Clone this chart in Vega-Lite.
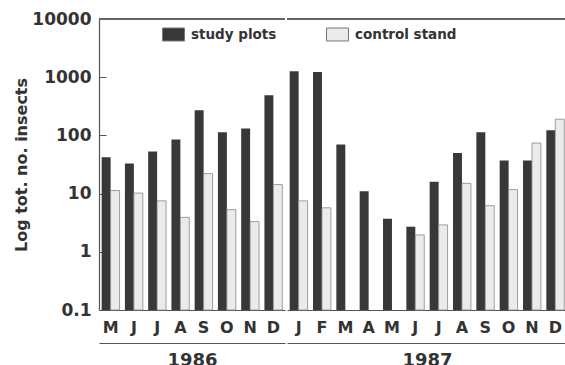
{
  "$schema": "https://vega.github.io/schema/vega-lite/v6.json",
  "background": "white",
  "padding": {"left": 13, "top": 10, "right": 0, "bottom": 0},
  "spacing": 0,
  "datasets": {
    "d": [
      {"year": 1986, "m": 5, "series": "study plots", "count": 42},
      {"year": 1986, "m": 6, "series": "study plots", "count": 33},
      {"year": 1986, "m": 7, "series": "study plots", "count": 53},
      {"year": 1986, "m": 8, "series": "study plots", "count": 85},
      {"year": 1986, "m": 9, "series": "study plots", "count": 270},
      {"year": 1986, "m": 10, "series": "study plots", "count": 113},
      {"year": 1986, "m": 11, "series": "study plots", "count": 132},
      {"year": 1986, "m": 12, "series": "study plots", "count": 490},
      {"year": 1986, "m": 5, "series": "control stand", "count": 11.3},
      {"year": 1986, "m": 6, "series": "control stand", "count": 10.2},
      {"year": 1986, "m": 7, "series": "control stand", "count": 7.5},
      {"year": 1986, "m": 8, "series": "control stand", "count": 3.9},
      {"year": 1986, "m": 9, "series": "control stand", "count": 22},
      {"year": 1986, "m": 10, "series": "control stand", "count": 5.3},
      {"year": 1986, "m": 11, "series": "control stand", "count": 3.3},
      {"year": 1986, "m": 12, "series": "control stand", "count": 14.3},
      {"year": 1987, "m": 1, "series": "study plots", "count": 1260},
      {"year": 1987, "m": 2, "series": "study plots", "count": 1230},
      {"year": 1987, "m": 3, "series": "study plots", "count": 70},
      {"year": 1987, "m": 4, "series": "study plots", "count": 11},
      {"year": 1987, "m": 5, "series": "study plots", "count": 3.7},
      {"year": 1987, "m": 6, "series": "study plots", "count": 2.7},
      {"year": 1987, "m": 7, "series": "study plots", "count": 16},
      {"year": 1987, "m": 8, "series": "study plots", "count": 50},
      {"year": 1987, "m": 9, "series": "study plots", "count": 113},
      {"year": 1987, "m": 10, "series": "study plots", "count": 37},
      {"year": 1987, "m": 11, "series": "study plots", "count": 37},
      {"year": 1987, "m": 12, "series": "study plots", "count": 122},
      {"year": 1987, "m": 1, "series": "control stand", "count": 7.5},
      {"year": 1987, "m": 2, "series": "control stand", "count": 5.7},
      {"year": 1987, "m": 6, "series": "control stand", "count": 1.95},
      {"year": 1987, "m": 7, "series": "control stand", "count": 2.9},
      {"year": 1987, "m": 8, "series": "control stand", "count": 15},
      {"year": 1987, "m": 9, "series": "control stand", "count": 6.2},
      {"year": 1987, "m": 10, "series": "control stand", "count": 11.7},
      {"year": 1987, "m": 11, "series": "control stand", "count": 74},
      {"year": 1987, "m": 12, "series": "control stand", "count": 190}
    ]
  },
  "data": {"name": "d"},
  "resolve": {"scale": {"color": "shared"}, "legend": {"color": "shared"}},
  "config": {
    "view": {"stroke": null},
    "font": "DejaVu Sans",
    "concat": {"spacing": 0},
    "legend": {
      "orient": "none",
      "legendX": 63,
      "legendY": 4,
      "direction": "horizontal",
      "columns": 2,
      "columnPadding": 47,
      "padding": 0,
      "title": null,
      "symbolType": "M-1,-0.59H1V0.59H-1Z",
      "symbolSize": 484,
      "symbolStrokeColor": "#777",
      "symbolStrokeWidth": 1,
      "symbolOffset": 0,
      "labelOffset": 6,
      "labelFont": "DejaVu Sans",
      "labelFontWeight": "bold",
      "labelFontSize": 13.5,
      "labelColor": "#333"
    }
  },
  "hconcat": [
    {
      "width": 186,
      "height": 291,
      "transform": [{"filter": "datum.year == 1986"}],
      "layer": [
        {
          "mark": {"type": "rule", "color": "#666", "strokeWidth": 1.2},
          "encoding": {"y": {"datum": 10000, "type": "quantitative", "scale": {"type": "log", "domain": [0.1, 10000]}}}
        },
        {
          "transform": [{"filter": "datum.series == 'study plots'"}],
          "mark": {"type": "bar"},
          "encoding": {
            "x": {"field": "m", "type": "ordinal", "scale": {"paddingInner": 0.23, "paddingOuter": 0.115},
              "axis": {"title": null, "labelExpr": "['J','F','M','A','M','J','J','A','S','O','N','D'][datum.value-1]", "labelAngle": 0, "labelFontWeight": "bold", "labelFontSize": 16, "labelColor": "#333", "ticks": false, "tickSize": 0, "labelPadding": 9, "domainColor": "#555", "domainWidth": 1.2}},
            "xOffset": {"field": "series", "scale": {"domain": ["study plots", "control stand"]}},
            "y": {"field": "count", "type": "quantitative", "stack": null, "scale": {"type": "log", "domain": [0.1, 10000]},
              "axis": {"values": [0.1, 1, 10, 100, 1000, 10000], "format": "~g", "title": "Log tot. no. insects", "titleFontSize": 16, "titleFontWeight": "bold", "titleColor": "#333", "titlePadding": 2, "labelFontSize": 17, "labelFontWeight": "bold", "labelColor": "#333", "grid": false, "tickSize": -7, "tickColor": "#555", "labelPadding": 15, "domainColor": "#555", "domainWidth": 1.2}},
            "y2": {"datum": 0.1},
            "color": {"field": "series", "type": "nominal", "scale": {"domain": ["study plots", "control stand"], "range": ["#383838", "#ebebeb"]}}
          }
        },
        {
          "transform": [{"filter": "datum.series == 'control stand'"}],
          "mark": {"type": "bar", "stroke": "#888", "strokeWidth": 0.8},
          "encoding": {
            "x": {"field": "m", "type": "ordinal",
              "axis": {"orient": "bottom", "offset": 33, "labels": false, "ticks": false, "domain": true, "domainColor": "#555", "domainWidth": 1.2, "title": "1986", "titleFontSize": 18, "titleFontWeight": "bold", "titleColor": "#333", "titlePadding": 8}},
            "xOffset": {"field": "series", "scale": {"domain": ["study plots", "control stand"]}},
            "y": {"field": "count", "type": "quantitative", "stack": null},
            "y2": {"datum": 0.1},
            "color": {"field": "series", "type": "nominal"}
          }
        }
      ],
      "resolve": {"axis": {"x": "independent"}}
    },
    {
      "width": 280,
      "height": 291,
      "transform": [{"filter": "datum.year == 1987"}],
      "layer": [
        {
          "mark": {"type": "rule", "color": "#666", "strokeWidth": 1.2},
          "encoding": {"y": {"datum": 10000, "type": "quantitative", "scale": {"type": "log", "domain": [0.1, 10000]}, "axis": null}}
        },
        {
          "transform": [{"filter": "datum.series == 'study plots'"}],
          "mark": {"type": "bar"},
          "encoding": {
            "x": {"field": "m", "type": "ordinal", "scale": {"paddingInner": 0.23, "paddingOuter": 0.115},
              "axis": {"title": null, "labelExpr": "['J','F','M','A','M','J','J','A','S','O','N','D'][datum.value-1]", "labelAngle": 0, "labelFontWeight": "bold", "labelFontSize": 16, "labelColor": "#333", "ticks": false, "tickSize": 0, "labelPadding": 9, "domainColor": "#555", "domainWidth": 1.2}},
            "xOffset": {"field": "series", "scale": {"domain": ["study plots", "control stand"]}},
            "y": {"field": "count", "type": "quantitative", "stack": null, "scale": {"type": "log", "domain": [0.1, 10000]}, "axis": null},
            "y2": {"datum": 0.1},
            "color": {"field": "series", "type": "nominal", "scale": {"domain": ["study plots", "control stand"], "range": ["#383838", "#ebebeb"]}}
          }
        },
        {
          "transform": [{"filter": "datum.series == 'control stand'"}],
          "mark": {"type": "bar", "stroke": "#888", "strokeWidth": 0.8},
          "encoding": {
            "x": {"field": "m", "type": "ordinal",
              "axis": {"orient": "bottom", "offset": 33, "labels": false, "ticks": false, "domain": true, "domainColor": "#555", "domainWidth": 1.2, "title": "1987", "titleFontSize": 18, "titleFontWeight": "bold", "titleColor": "#333", "titlePadding": 8}},
            "xOffset": {"field": "series", "scale": {"domain": ["study plots", "control stand"]}},
            "y": {"field": "count", "type": "quantitative", "stack": null, "axis": null},
            "y2": {"datum": 0.1},
            "color": {"field": "series", "type": "nominal"}
          }
        }
      ],
      "resolve": {"axis": {"x": "independent"}}
    }
  ]
}
